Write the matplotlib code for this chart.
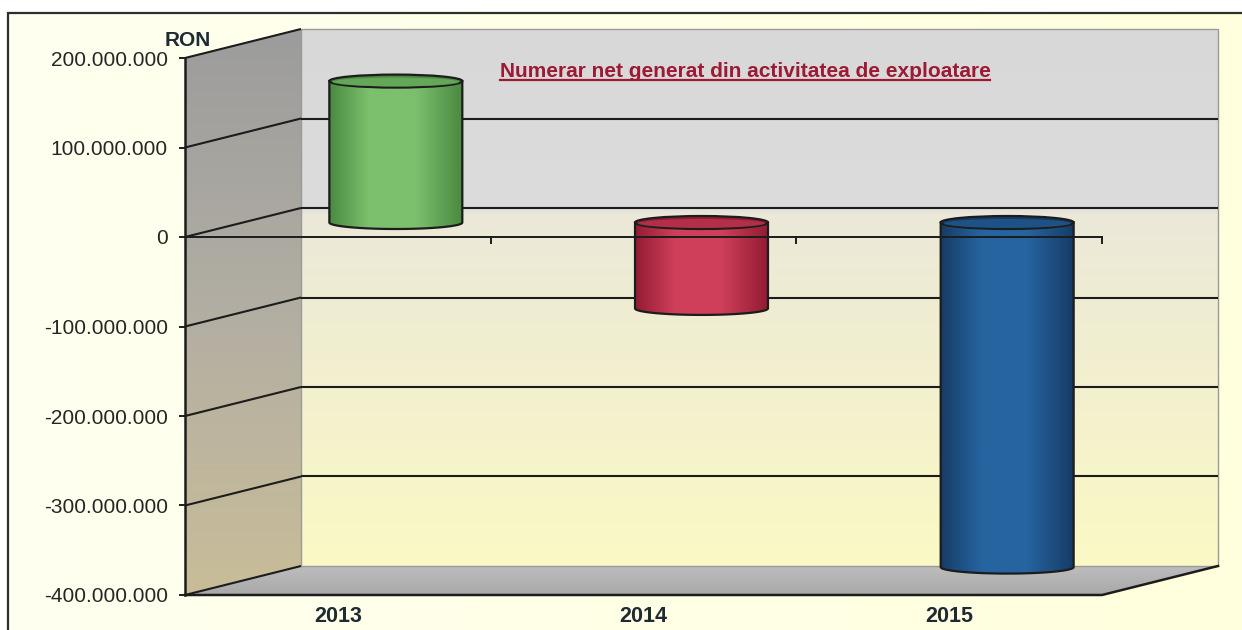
import numpy as np
import matplotlib
matplotlib.use("Agg")
import matplotlib.pyplot as plt
from matplotlib.patches import Polygon, Rectangle, Ellipse
from matplotlib.colors import LinearSegmentedColormap
from matplotlib.transforms import IdentityTransform

plt.rcParams['font.family'] = ['Liberation Sans', 'DejaVu Sans']

# data
years = ['2013', '2014', '2015']
cash_flow = [158e6, -96e6, -385e6]
y_ticks = [200e6, 100e6, 0, -100e6, -200e6, -300e6, -400e6]
y_tick_labels = ['200.000.000', '100.000.000', '0', '-100.000.000',
                 '-200.000.000', '-300.000.000', '-400.000.000']
bar_colors = [('#4a8a41', '#7cc06d'), ('#931c33', '#cf3f5a'), ('#163c66', '#2664a0')]
title = 'Numerar net generat din activitatea de exploatare'
unit = 'RON'

# layout (pixels of the 1242x630 image)
W, H = 1242, 630
PL, PR, PT, PB = 185, 1102, 58, 595   # front plane: left, right, top, bottom
DEPTH = (116, 29)                      # shift of the back wall
ELL_H = 6.5                            # half height of cylinder ellipses
BAR_W = 0.435
INK = '#1c1c1c'

fig = plt.figure(figsize=(W / 100, H / 100), dpi=100)
ax = fig.add_axes([0, 0, 1, 1])
ax.set_axis_off()
n = len(years)
ymin, ymax = y_ticks[-1], y_ticks[0]
xu = n / (PR - PL)
yu = (ymax - ymin) / (PB - PT)
ax.set_xlim(0.5 - PL * xu, n + 0.5 + (W - PR) * xu)
ax.set_ylim(ymin - (H - PB) * yu, ymax + PT * yu)
ID = IdentityTransform()


def disp(x, y, f=0.0):
    px, py = ax.transData.transform((x, y))
    return px + DEPTH[0] * f, py + DEPTH[1] * f


def gradient(patch, colors, horizontal=False, z=1):
    ax.add_patch(patch)
    ext = patch.get_path().transformed(patch.get_transform()).get_extents()
    cmap = LinearSegmentedColormap.from_list('g', colors)
    g = np.linspace(0, 1, 256)
    img = g[None, :] if horizontal else g[:, None]
    im = ax.imshow(img, cmap=cmap, extent=(ext.x0, ext.x1, ext.y0, ext.y1),
                   origin='upper', transform=ID, aspect='auto',
                   interpolation='bilinear', zorder=z)
    im.set_clip_path(patch)


# chart area background and frame
frame = Rectangle((8, -30), W + 60, H - 13 + 30, transform=ID, fc='none',
                  ec='none')
gradient(frame, ['#fffff0', '#ffffdc'], horizontal=True, z=0)
ax.add_patch(Rectangle((8, -30), W + 60, H - 13 + 30, transform=ID, fc='none',
                       ec='#2e2e2e', lw=1.6, zorder=0.5, clip_on=False))

x0, x1 = 0.5, n + 0.5
# back wall
bw = [disp(x0, ymax, 1), disp(x1, ymax, 1), disp(x1, ymin, 1), disp(x0, ymin, 1)]
gradient(Polygon(bw, closed=True, transform=ID, fc='none', ec='none'),
         [(0, '#d8d8d8'), (0.33, '#dcdcdc'), (0.345, '#ebe8d8'), (1, '#fbf9c4')], z=1)
ax.add_patch(Polygon(bw, closed=True, transform=ID, fc='none', ec='#9a9a9a',
                     lw=1.0, zorder=1.2))
# left wall
lw_ = [disp(x0, ymax), disp(x0, ymax, 1), disp(x0, ymin, 1), disp(x0, ymin)]
gradient(Polygon(lw_, closed=True, transform=ID, fc='none', ec='none'),
         ['#9c9c9c', '#b2aea3', '#c9bd98'], z=1)
# floor
fl = [disp(x0, ymin), disp(x1, ymin), disp(x1, ymin, 1), disp(x0, ymin, 1)]
gradient(Polygon(fl, closed=True, transform=ID, fc='none', ec='none'),
         ['#bdbdbd', '#a8a8a8'], z=1)

# grid lines on left and back walls
for t in y_ticks:
    a, b, c = disp(x0, t), disp(x0, t, 1), disp(x1, t, 1)
    ax.plot([a[0], b[0]], [a[1], b[1]], transform=ID, color=INK, lw=1.5,
            zorder=3, solid_capstyle='butt')
    if ymin < t < ymax:
        ax.plot([b[0], c[0]], [b[1], c[1]], transform=ID, color=INK, lw=1.5,
                zorder=3, solid_capstyle='butt')
# floor front and right edges
p, q, r = disp(x0, ymin), disp(x1, ymin), disp(x1, ymin, 1)
ax.plot([p[0], q[0], r[0]], [p[1], q[1], r[1]], transform=ID, color=INK,
        lw=1.8, zorder=3)

# cylinders
for i, (v, (dark, light)) in enumerate(zip(cash_flow, bar_colors)):
    xc = i + 1
    top, bot = max(v, 0), min(v, 0)
    cx, ty = disp(xc, top, 0.5)
    _, by = disp(xc, bot, 0.5)
    hw = disp(xc + BAR_W / 2, 0, 0.5)[0] - cx
    t1 = np.linspace(np.pi, 2 * np.pi, 60)
    t2 = np.linspace(0, np.pi, 60)
    bottom_arc = np.column_stack([cx + hw * np.cos(t1), by + ELL_H * np.sin(t1)])
    top_arc = np.column_stack([cx + hw * np.cos(t2), ty + ELL_H * np.sin(t2)])
    body = np.vstack([[cx - hw, ty], bottom_arc, [cx + hw, ty], top_arc])
    gradient(Polygon(body, closed=True, transform=ID, fc='none', ec='none'),
             [(0, dark), (0.3, light), (0.65, light), (1, dark)],
             horizontal=True, z=5)
    outline = np.vstack([[cx - hw, ty], bottom_arc, [cx + hw, ty]])
    ax.plot(outline[:, 0], outline[:, 1], transform=ID, color=INK, lw=1.6,
            zorder=5.2)
    ax.add_patch(Ellipse((cx, ty), 2 * hw, 2 * ELL_H, transform=ID, fc=dark,
                         ec=INK, lw=1.6, zorder=5.3))
    ax.add_patch(Ellipse((cx, ty - 1), 2 * hw - 6, 2 * ELL_H - 4, transform=ID,
                         fc=light, ec='none', zorder=5.4, alpha=0.55))

# category axis (zero line) with ticks
z0, z1 = disp(x0, 0), disp(x1, 0)
ax.plot([z0[0], z1[0]], [z0[1], z1[1]], transform=ID, color=INK, lw=1.4, zorder=6)
for k in range(1, n + 1):
    tx, ty_ = disp(k + 0.5, 0)
    ax.plot([tx, tx], [ty_, ty_ - 6], transform=ID, color=INK, lw=1.4, zorder=6)

# value axis
a, b = disp(x0, ymax), disp(x0, ymin)
ax.plot([a[0], b[0]], [a[1], b[1]], transform=ID, color=INK, lw=1.8, zorder=6)
for t, lab in zip(y_ticks, y_tick_labels):
    px, py = disp(x0, t)
    ax.plot([px - 5, px], [py, py], transform=ID, color=INK, lw=1.4, zorder=6)
    ax.text(px - 17, py - 2, lab, transform=ID, ha='right', va='center',
            fontsize=15, color='#262626', zorder=7)

px, py = disp(x0, ymax)
ax.text(px + 3, py + 18, unit, transform=ID, ha='center', va='center',
        fontsize=15, fontweight='bold', color='#1f2a33', zorder=7)

for k, yr in enumerate(years):
    px, py = disp(k + 1, ymin)
    ax.text(px, py - 22, yr, transform=ID, ha='center', va='center',
            fontsize=15.5, fontweight='bold', color='#1f2a33', zorder=7)

# title, underlined
tt = ax.text(745, H - 77, title, transform=ID, ha='center', va='baseline',
             fontsize=15, fontweight='bold', color='#9c1a33', zorder=7)
fig.canvas.draw()
bb = tt.get_window_extent(fig.canvas.get_renderer())
ax.plot([bb.x0, bb.x1], [H - 80, H - 80], transform=ID, color='#9c1a33',
        lw=1.6, zorder=7)

fig.savefig('out.png', dpi=100, facecolor='white')
